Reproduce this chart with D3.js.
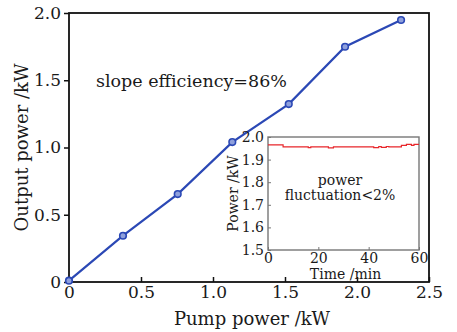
<!DOCTYPE html>
<html>
<head>
<meta charset="utf-8">
<script src="https://cdn.jsdelivr.net/npm/d3@7"></script>
<style>
  body { margin: 0; background: #fff; }
  svg { display: block; font-family: "DejaVu Serif", serif; }
</style>
</head>
<body>
<div id="chart"></div>
<script>
// main curve: pump power vs output power (kW)
const pumpPower = [0, 0.375, 0.755, 1.134, 1.526, 1.917, 2.306];
const outputPower = [0.01, 0.344, 0.654, 1.04, 1.323, 1.749, 1.948];
const mainXTicks = [0, 0.5, 1.0, 1.5, 2.0, 2.5];
const mainYTicks = [0, 0.5, 1.0, 1.5, 2.0];

// inset: stability over time
const timeMin = [0, 6, 16, 17, 24, 26, 27, 42, 44, 45, 47, 48, 53, 55, 57, 58, 60];
const stablePower = [1.965, 1.956, 1.953, 1.956, 1.952, 1.956, 1.956, 1.953, 1.958, 1.954, 1.958, 1.956, 1.963, 1.967, 1.963, 1.967, 1.967];
const insetXTicks = [0, 20, 40, 60];
const insetYTicks = [1.5, 1.6, 1.7, 1.8, 1.9, 2.0];

const W = 457, H = 332;
const svg = d3.select("#chart").append("svg")
  .attr("width", W).attr("height", H);

const blue = "#2b48b5";
const ink = "#1a1a1a";

// ---- main plot ----
const m = { left: 69, right: 429, top: 13, bottom: 282 };
const x = d3.scaleLinear().domain([0, 2.5]).range([m.left, m.right]);
const y = d3.scaleLinear().domain([0, 2.0]).range([m.bottom, m.top]);

const fmt = d => d === 0 ? "0" : d3.format(".1f")(d);

// frame
svg.append("rect")
  .attr("x", m.left).attr("y", m.top)
  .attr("width", m.right - m.left).attr("height", m.bottom - m.top)
  .attr("fill", "none").attr("stroke", "#111").attr("stroke-width", 1.8);

// x axis ticks point inward
const xAxis = svg.append("g")
  .attr("transform", `translate(0,${m.bottom})`)
  .call(d3.axisBottom(x).tickValues(mainXTicks).tickFormat(fmt).tickSizeInner(-5).tickSizeOuter(0).tickPadding(4));
xAxis.select(".domain").remove();
xAxis.selectAll("line").attr("stroke", "#111").attr("stroke-width", 1.5);
xAxis.selectAll("text").attr("font-size", 17).attr("fill", ink)
  .attr("font-family", "DejaVu Serif");

const yAxis = svg.append("g")
  .attr("transform", `translate(${m.left},0)`)
  .call(d3.axisLeft(y).tickValues(mainYTicks).tickFormat(fmt).tickSizeInner(5).tickSizeOuter(0).tickPadding(3));
yAxis.select(".domain").remove();
yAxis.selectAll("line").attr("stroke", "#111").attr("stroke-width", 1.5);
yAxis.selectAll("text").attr("font-size", 17).attr("fill", ink)
  .attr("font-family", "DejaVu Serif");

svg.append("text")
  .attr("x", (m.left + m.right) / 2 + 3).attr("y", 325)
  .attr("text-anchor", "middle").attr("font-size", 18).attr("fill", ink)
  .text("Pump power /kW");

svg.append("text")
  .attr("transform", `translate(28,${(m.top + m.bottom) / 2}) rotate(-90)`)
  .attr("text-anchor", "middle").attr("font-size", 18).attr("fill", ink)
  .text("Output power /kW");

svg.append("text")
  .attr("x", 96).attr("y", 87)
  .attr("font-size", 17.5).attr("fill", ink)
  .text("slope efficiency=86%");

const pts = pumpPower.map((p, i) => [p, outputPower[i]]);
svg.append("path")
  .datum(pts)
  .attr("fill", "none").attr("stroke", blue).attr("stroke-width", 2.2)
  .attr("d", d3.line().x(d => x(d[0])).y(d => y(d[1])));

svg.selectAll("circle.pt")
  .data(pts).enter().append("circle")
  .attr("class", "pt")
  .attr("cx", d => x(d[0])).attr("cy", d => y(d[1]))
  .attr("r", 3.3)
  .attr("fill", "#8fa0dc").attr("stroke", blue).attr("stroke-width", 1.6);

// ---- inset ----
const n = { left: 268, right: 419, top: 137, bottom: 250 };
const ix = d3.scaleLinear().domain([0, 60]).range([n.left, n.right]);
const iy = d3.scaleLinear().domain([1.5, 2.0]).range([n.bottom, n.top]);

svg.append("rect")
  .attr("x", n.left).attr("y", n.top)
  .attr("width", n.right - n.left).attr("height", n.bottom - n.top)
  .attr("fill", "#fff").attr("stroke", "#777").attr("stroke-width", 1.4);

const ixAxis = svg.append("g")
  .attr("transform", `translate(0,${n.bottom})`)
  .call(d3.axisBottom(ix).tickValues(insetXTicks).tickSizeInner(-3).tickSizeOuter(0).tickPadding(3));
ixAxis.select(".domain").remove();
ixAxis.selectAll("line").attr("stroke", "#777");
ixAxis.selectAll("text").attr("font-size", 14).attr("fill", ink)
  .attr("font-family", "DejaVu Serif");

const iyAxis = svg.append("g")
  .attr("transform", `translate(${n.left},0)`)
  .call(d3.axisLeft(iy).tickValues(insetYTicks).tickFormat(d3.format(".1f")).tickSizeInner(-3).tickSizeOuter(0).tickPadding(4));
iyAxis.select(".domain").remove();
iyAxis.selectAll("line").attr("stroke", "#777");
iyAxis.selectAll("text").attr("font-size", 14).attr("fill", ink)
  .attr("font-family", "DejaVu Serif");

svg.append("path")
  .datum(timeMin.map((t, i) => [t, stablePower[i]]))
  .attr("fill", "none").attr("stroke", "#e8262b").attr("stroke-width", 1.2)
  .attr("d", d3.line().curve(d3.curveStepAfter).x(d => ix(d[0])).y(d => iy(d[1])));

svg.append("text")
  .attr("x", 340).attr("y", 185)
  .attr("text-anchor", "middle").attr("font-size", 14).attr("fill", ink)
  .text("power");
svg.append("text")
  .attr("x", 340).attr("y", 200)
  .attr("text-anchor", "middle").attr("font-size", 14).attr("fill", ink)
  .text("fluctuation<2%");

svg.append("text")
  .attr("x", (n.left + n.right) / 2 + 2).attr("y", 279)
  .attr("text-anchor", "middle").attr("font-size", 14).attr("fill", ink)
  .text("Time /min");

svg.append("text")
  .attr("transform", `translate(238,${(n.top + n.bottom) / 2}) rotate(-90)`)
  .attr("text-anchor", "middle").attr("font-size", 14).attr("fill", ink)
  .text("Power /kW");
</script>
</body>
</html>
